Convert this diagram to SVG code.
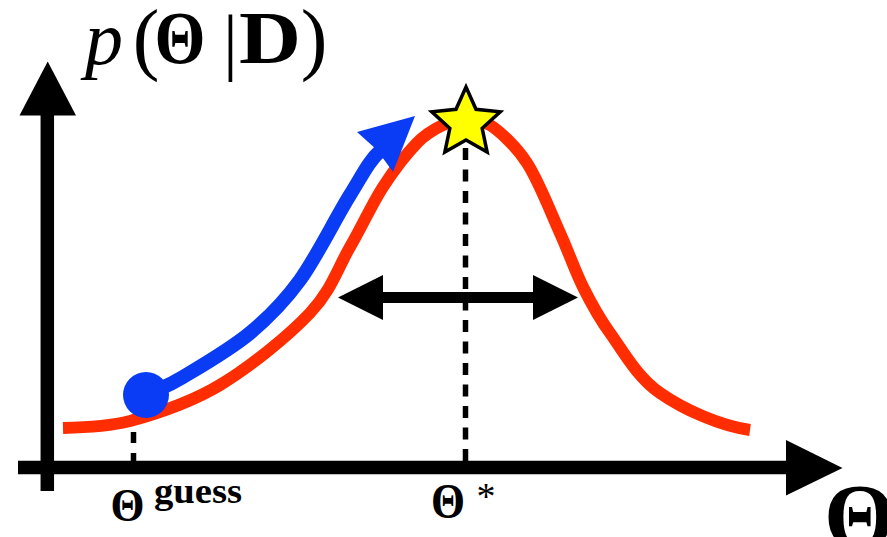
<svg xmlns="http://www.w3.org/2000/svg" width="887" height="537" viewBox="0 0 887 537">
<style>
.ax{stroke:#000;stroke-width:13.5;fill:none}
.dash{stroke:#000;stroke-width:5.5;fill:none;stroke-dasharray:12 9.5}
text{font-family:'Liberation Serif','Times New Roman',serif;fill:#000}
.b{font-weight:bold}
</style>
<rect width="887" height="537" fill="#fff"/>
<g id="axes">
<line class="ax" x1="47.3" y1="110" x2="47.3" y2="491"/>
<polygon points="47.7,61.5 76,115.5 19.5,115.5" fill="#000"/>
<line class="ax" x1="18" y1="467.5" x2="792" y2="467.5"/>
<polygon points="842.5,468 786,440 786,495.5" fill="#000"/>
</g>
<g id="posterior-curve">
<path d="M63,428 C85,427.5 108,426.5 130,421 C156.2,413.8 190,403 220,385 C250,367 288.3,336 310,313 C331.7,290 337.8,268 350,247 C362.2,226 371.8,204.3 383,187 C394.2,169.7 407,153.3 417,143 C427,132.7 435.2,128.8 443,125 C450.8,121.2 456.2,120 464,120 C471.8,120 482,120.5 490,125 C498,130 515.3,145 527,163 C538.7,181 550.7,212.3 560,233 C569.3,253.7 574.7,270.3 583,287 C591.3,303.7 597.2,315.3 610,333 C622.8,350.7 636.7,376.8 660,393 C683.3,409.2 720,426 750,430" fill="none" stroke="#ff2d00" stroke-width="12"/>
</g>
<g id="connectors">
<line class="dash" x1="133.5" y1="432" x2="133.5" y2="461" style="stroke-dasharray:11 10"/>
<line class="dash" x1="465.5" y1="148" x2="465.5" y2="461"/>
<g id="width-arrow">
<line x1="375" y1="297.5" x2="541" y2="297.5" stroke="#000" stroke-width="11"/>
<polygon points="338,297.5 383,275 383,320" fill="#000"/>
<polygon points="578,297.5 533,275 533,320" fill="#000"/>
</g>
<g id="gradient-arrow">
<path d="M147,395 C159,389 165.8,387.3 183,377 C200.2,366.7 230.5,349.2 250,333 C269.5,316.8 283.3,303 300,280 C316.7,257 336.3,216.7 350,195 C363,174 369,161 381,150" fill="none" stroke="#0b3cf5" stroke-width="14"/>
<polygon points="415,116 357,132 377,150 393,172" fill="#0b3cf5"/>
</g>
</g>
<g id="guess-point">
<circle cx="146" cy="395" r="23" fill="#0b3cf5"/>
</g>
<g id="optimum-star">
<polygon points="466,87 475.99,109.25 500.24,111.88 482.17,128.25 487.16,152.12 466,140 444.84,152.12 449.83,128.25 431.76,111.88 456.01,109.25" fill="#ffff00" stroke="#000" stroke-width="3.5" stroke-linejoin="miter"/>
</g>
<g id="labels">
<g id="y-label">
<text x="104" y="64" font-size="76" font-style="italic" text-anchor="middle">p</text>
<text x="146" y="65" font-size="80" text-anchor="middle">(</text>
<text class="b" x="180" y="63" font-size="74" text-anchor="middle" textLength="51" lengthAdjust="spacingAndGlyphs">Θ</text>
<text x="230.5" y="66" font-size="74" text-anchor="middle">|</text>
<text class="b" x="270" y="63" font-size="74" text-anchor="middle" textLength="62" lengthAdjust="spacingAndGlyphs">D</text>
<text x="314" y="65" font-size="80" text-anchor="middle">)</text>
</g>
<g id="guess-label">
<text class="b" x="127.5" y="521" font-size="47" text-anchor="middle" textLength="34" lengthAdjust="spacingAndGlyphs">Θ</text>
<text class="b" x="154" y="503" font-size="36" textLength="88" lengthAdjust="spacingAndGlyphs">guess</text>
</g>
<g id="star-label">
<text class="b" x="448" y="518" font-size="51" text-anchor="middle" textLength="34" lengthAdjust="spacingAndGlyphs">Θ</text>
<text x="486" y="509" font-size="38" text-anchor="middle">*</text>
</g>
<g id="x-label">
<text class="b" x="824" y="547" font-size="92">Θ</text>
</g>
</g>
</svg>
